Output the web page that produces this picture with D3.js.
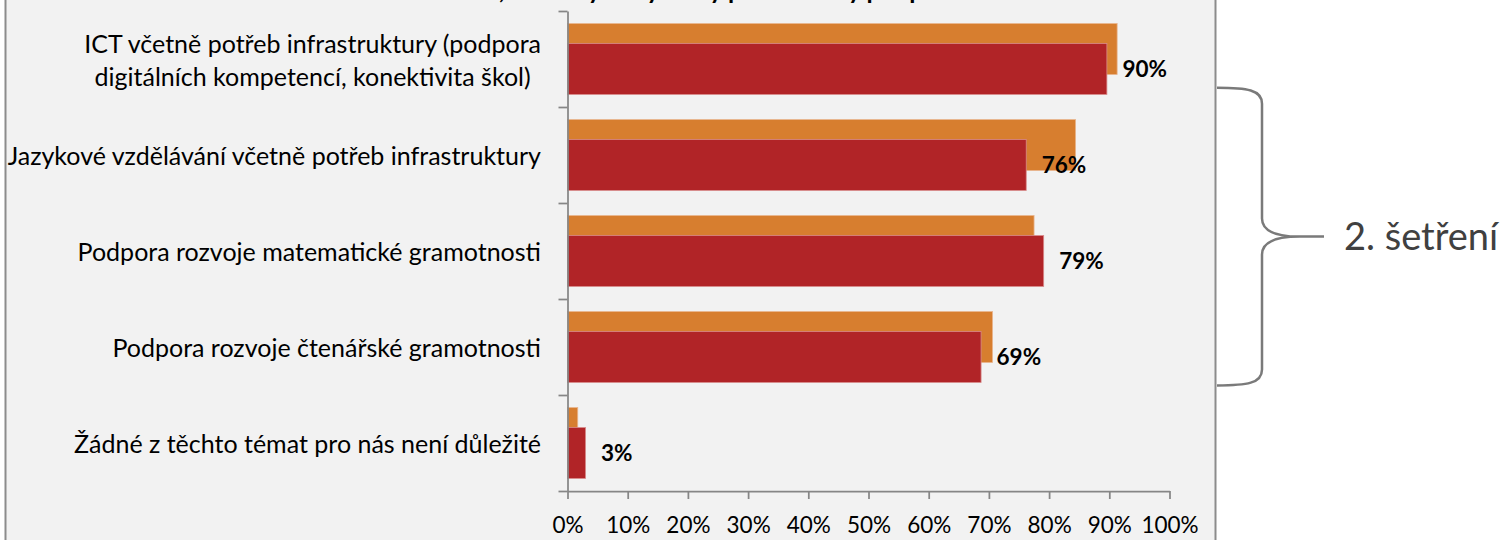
<!DOCTYPE html>
<html>
<head>
<meta charset="utf-8">
<script src="https://cdn.jsdelivr.net/npm/d3@7"></script>
<style>
  body { margin: 0; background: #ffffff; }
  svg { display: block; font-family: Lato, "Open Sans", sans-serif; }
</style>
</head>
<body>
<div id="chart"></div>
<script>
// data
var categories = [
    "ICT včetně potřeb infrastruktury (podpora\ndigitálních kompetencí, konektivita škol)",
    "Jazykové vzdělávání včetně potřeb infrastruktury",
    "Podpora rozvoje matematické gramotnosti",
    "Podpora rozvoje čtenářské gramotnosti",
    "Žádné z těchto témat pro nás není důležité"
];
var firstSurvey = [91.3, 84.4, 77.5, 70.6, 1.7];   // orange, behind
var secondSurvey = [89.6, 76.2, 79.1, 68.7, 3.0];  // red, labelled
var xTicks = [0, 10, 20, 30, 40, 50, 60, 70, 80, 90, 100];
var titleText = "Oblasti, ve kterých by školy potřebovaly podporu";
var braceText = "2. šetření";

var W = 1510, H = 540;
var margin = {top: 11, left: 567.5, right: 340.5, bottom: 49};

var svg = d3.select("#chart")
    .append("svg")
        .attr("width", W)
        .attr("height", H);

// chart box
svg.append("rect")
    .attr("x", 5.5)
    .attr("y", -10)
    .attr("width", 1210)
    .attr("height", H + 20)
    .style("fill", "#f2f2f2")
    .style("stroke", "#8c8c8c")
    .style("stroke-width", 2);

// title, mostly cut off by the top edge (as in the source)
svg.append("text")
    .attr("x", 690)
    .attr("y", -1)
    .attr("text-anchor", "middle")
    .style("font-size", "25px")
    .style("font-weight", "bold")
    .style("fill", "#000")
    .text(titleText);

var x = d3.scaleLinear()
    .domain([0, 100])
    .range([margin.left, W - margin.right]);

var y = d3.scaleBand()
    .domain(categories)
    .range([margin.top, H - margin.bottom])
    .padding(0);

var yEdges = d3.scaleLinear()
    .domain([0, categories.length])
    .range([margin.top, H - margin.bottom]);

var bw = y.bandwidth();
var barH = bw * 0.53;
var shift = bw * 0.208;
var start = (bw - barH - shift) / 2;

var rows = categories.map(function(c, i) {
    return {cat: c, a: firstSurvey[i], b: secondSurvey[i]};
});

// orange bars (first survey)
svg.selectAll(".bar-a")
    .data(rows)
    .enter()
    .append("rect")
        .attr("class", "bar-a")
        .attr("x", x(0))
        .attr("y", function(d) { return y(d.cat) + start; })
        .attr("width", function(d) { return x(d.a) - x(0); })
        .attr("height", barH)
        .style("fill", "#d77e2f")
        .style("stroke", "#e9b48c")
        .style("stroke-width", 0.8);

// red bars (second survey)
svg.selectAll(".bar-b")
    .data(rows)
    .enter()
    .append("rect")
        .attr("class", "bar-b")
        .attr("x", x(0))
        .attr("y", function(d) { return y(d.cat) + start + shift; })
        .attr("width", function(d) { return x(d.b) - x(0); })
        .attr("height", barH)
        .style("fill", "#b12427")
        .style("stroke", "#d88a8a")
        .style("stroke-width", 0.8);

// value labels
svg.selectAll(".val")
    .data(rows)
    .enter()
    .append("text")
        .attr("class", "val")
        .attr("x", function(d) { return x(d.b) + 15.5; })
        .attr("y", function(d) { return y(d.cat) + start + shift + barH / 2; })
        .attr("dy", "0.36em")
        .style("font-size", "22.5px")
        .style("font-weight", "bold")
        .style("fill", "#000")
        .text(function(d) { return Math.round(d.b) + "%"; });

// y axis: ticks between categories
svg.append("g")
    .attr("transform", "translate(" + margin.left + ",0)")
    .call(d3.axisLeft(yEdges)
        .ticks(categories.length)
        .tickSize(9)
        .tickSizeOuter(0)
        .tickFormat(""))
    .call(function(g) {
        g.selectAll("path, line").style("stroke", "#868686").style("stroke-width", 1.75);
    });

// x axis
svg.append("g")
    .attr("transform", "translate(0," + (H - margin.bottom) + ")")
    .call(d3.axisBottom(x)
        .tickValues(xTicks)
        .tickSize(8)
        .tickSizeOuter(0)
        .tickPadding(18)
        .tickFormat(function(d) { return d + "%"; }))
    .call(function(g) {
        g.selectAll("path, line").style("stroke", "#868686").style("stroke-width", 1.75);
        g.selectAll("text")
            .style("font-family", "Lato, sans-serif")
            .style("font-size", "22.5px")
            .style("fill", "#000");
    });

// category labels, lines centred within a block that ends at the right
var labelRight = margin.left - 26.5;
var lineGap = 33;
var labels = svg.selectAll(".cat")
    .data(categories)
    .enter()
    .append("text")
        .attr("class", "cat")
        .style("font-size", "25px")
        .style("fill", "#000")
        .attr("text-anchor", "end");

labels.each(function(c) {
    var lines = c.split("\n");
    var t = d3.select(this);
    var mid = y(c) + bw / 2 + 1.5;
    lines.forEach(function(l, i) {
        t.append("tspan")
            .attr("x", labelRight)
            .attr("y", mid + (i - (lines.length - 1) / 2) * lineGap)
            .attr("dy", "0.35em")
            .text(l);
    });
    var maxW = 0;
    t.selectAll("tspan").each(function() {
        maxW = Math.max(maxW, this.getComputedTextLength());
    });
    t.attr("text-anchor", "middle");
    t.selectAll("tspan").attr("x", labelRight - maxW / 2);
});

// brace for the first four rows
var bTop = y(categories[0]) + bw * 0.8;
var bBot = y(categories[3]) + bw * 0.9;
var bMid = (bTop + bBot) / 2;
var bx0 = 1217, bx1 = 1262, bx2 = 1300, bx3 = 1324;
var brace = d3.path();
brace.moveTo(bx0, bTop);
brace.bezierCurveTo(bx0 + 30, bTop, bx1, bTop + 2, bx1, bTop + 16);
brace.lineTo(bx1, bMid - 18);
brace.bezierCurveTo(bx1, bMid - 5, bx1 + 16, bMid, bx2, bMid);
brace.lineTo(bx3, bMid);
brace.moveTo(bx2, bMid);
brace.bezierCurveTo(bx1 + 16, bMid, bx1, bMid + 5, bx1, bMid + 18);
brace.lineTo(bx1, bBot - 16);
brace.bezierCurveTo(bx1, bBot - 2, bx0 + 30, bBot, bx0, bBot);

svg.append("path")
    .attr("d", brace.toString())
    .style("fill", "none")
    .style("stroke", "#7a7a7a")
    .style("stroke-width", 2.5);

svg.append("text")
    .attr("x", 1344)
    .attr("y", bMid + 13)
    .style("font-size", "38px")
    .style("fill", "#404040")
    .text(braceText);
</script>
</body>
</html>
